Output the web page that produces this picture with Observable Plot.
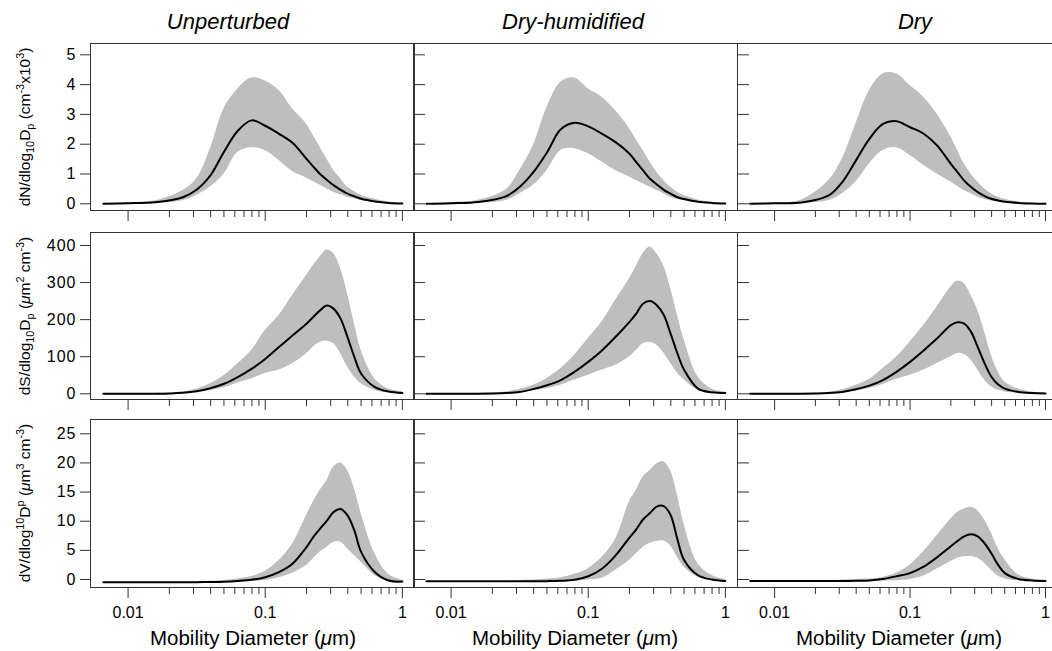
<!DOCTYPE html>
<html><head><meta charset="utf-8">
<script src="https://cdn.jsdelivr.net/npm/d3@7"></script>
<script src="https://cdn.jsdelivr.net/npm/@observablehq/plot@0.6"></script>
<style>
body{margin:0;background:#fff;overflow:hidden}
#chart{position:relative;width:1052px;height:651px;overflow:hidden;background:#fff;font-family:"Liberation Sans",Arial,Helvetica,sans-serif;color:#000}
.panel{position:absolute}
.title{position:absolute;top:8px;font-style:italic;font-size:22px;line-height:28px;white-space:nowrap;transform:translateX(-50%)}
.ylab{position:absolute;white-space:nowrap;font-size:15.5px;line-height:18px;transform:translate(-50%,-50%) rotate(-90deg)}
.xlab{position:absolute;font-size:20.5px;line-height:24px;white-space:nowrap;transform:translateX(-50%)}
sub,sup{font-size:70%;line-height:0}
</style></head>
<body><div id="chart"></div>
<script>
// Mobility diameter grid (µm)
const diam = [0.0066, 0.01, 0.0158, 0.0251, 0.0316, 0.0398, 0.0501, 0.0631, 0.0794, 0.1, 0.126, 0.158, 0.2, 0.224, 0.251, 0.282, 0.316, 0.355, 0.398, 0.447, 0.501, 0.631, 0.794, 1.0];
const conditions = ["Unperturbed", "Dry-humidified", "Dry"];

// Number distribution (cm^-3 x10^3)
const nUnpMean = [0, 0.02, 0.05, 0.22, 0.47, 0.95, 1.75, 2.45, 2.8, 2.62, 2.35, 2.05, 1.51, 1.25, 1.0, 0.8, 0.62, 0.47, 0.34, 0.25, 0.17, 0.08, 0.03, 0.01];
const nUnpHi   = [0, 0.03, 0.1, 0.45, 0.84, 1.85, 3.2, 3.85, 4.22, 4.12, 3.8, 3.19, 2.68, 2.29, 1.9, 1.5, 1.12, 0.84, 0.56, 0.41, 0.28, 0.15, 0.06, 0.02];
const nUnpLo   = [0, 0, 0.02, 0.1, 0.28, 0.56, 1.0, 1.73, 1.88, 1.79, 1.45, 1.08, 0.86, 0.74, 0.62, 0.5, 0.39, 0.3, 0.22, 0.17, 0.11, 0.04, 0.01, 0];
const nHumMean = [0, 0.02, 0.06, 0.25, 0.56, 1.06, 1.73, 2.5, 2.72, 2.6, 2.35, 2.07, 1.68, 1.4, 1.12, 0.84, 0.65, 0.47, 0.34, 0.22, 0.16, 0.07, 0.03, 0.01];
const nHumHi   = [0, 0.04, 0.12, 0.47, 1.12, 1.96, 3.24, 4.08, 4.22, 3.86, 3.58, 3.13, 2.52, 2.15, 1.79, 1.4, 1.06, 0.78, 0.56, 0.39, 0.28, 0.13, 0.05, 0.02];
const nHumLo   = [0, 0, 0.02, 0.11, 0.34, 0.62, 1.12, 1.79, 1.85, 1.68, 1.4, 1.12, 0.9, 0.78, 0.67, 0.56, 0.45, 0.34, 0.22, 0.15, 0.1, 0.04, 0.01, 0];
const nDryMean = [0, 0.02, 0.04, 0.28, 0.73, 1.45, 2.18, 2.68, 2.77, 2.57, 2.35, 1.96, 1.34, 1.06, 0.78, 0.56, 0.39, 0.26, 0.17, 0.11, 0.07, 0.03, 0.01, 0];
const nDryHi   = [0, 0.03, 0.13, 0.78, 1.51, 2.68, 3.8, 4.36, 4.36, 3.97, 3.58, 3.02, 2.24, 1.8, 1.34, 1.0, 0.73, 0.5, 0.34, 0.22, 0.15, 0.06, 0.02, 0.01];
const nDryLo   = [0, 0, 0.01, 0.11, 0.34, 0.73, 1.34, 1.79, 1.88, 1.62, 1.29, 1.0, 0.73, 0.59, 0.45, 0.34, 0.22, 0.15, 0.09, 0.06, 0.04, 0.01, 0, 0];

// Surface distribution (µm^2 cm^-3)
const sUnpMean = [0, 0, 0, 3, 7, 15, 27, 45, 67, 94, 126, 157, 189, 207, 225, 238, 229, 202, 153, 99, 54, 18, 6, 2];
const sUnpHi   = [0, 0, 1, 5, 13, 27, 49, 81, 117, 171, 211, 265, 319, 346, 369, 388, 378, 337, 270, 189, 117, 40, 13, 6];
const sUnpLo   = [0, 0, 0, 2, 4, 9, 16, 29, 40, 55, 64, 81, 108, 126, 139, 142, 135, 108, 72, 45, 27, 9, 3, 1];
const sHumMean = [0, 0, 0, 2, 5, 13, 23, 37, 59, 86, 117, 153, 194, 216, 243, 250, 239, 213, 163, 109, 64, 14, 4, 2];
const sHumHi   = [0, 0, 1, 5, 12, 23, 41, 68, 104, 149, 194, 252, 310, 344, 378, 396, 378, 345, 285, 212, 145, 46, 13, 5];
const sHumLo   = [0, 0, 0, 1, 3, 8, 14, 23, 37, 50, 64, 77, 100, 117, 135, 138, 131, 110, 83, 56, 37, 10, 4, 1];
const sDryMean = [0, 0, 0, 2, 5, 12, 22, 37, 59, 86, 117, 149, 185, 193, 189, 167, 126, 82, 46, 25, 14, 5, 2, 1];
const sDryHi   = [0, 0, 1, 4, 11, 23, 39, 68, 99, 140, 184, 234, 288, 304, 297, 265, 225, 167, 104, 59, 32, 13, 5, 2];
const sDryLo   = [0, 0, 0, 1, 3, 7, 14, 25, 39, 50, 64, 82, 100, 109, 106, 91, 64, 37, 19, 10, 5, 2, 1, 0];

// Volume distribution (µm^3 cm^-3)
const vUnpMean = [-0.45, -0.45, -0.45, -0.45, -0.45, -0.43, -0.38, -0.25, -0.05, 0.4, 1.26, 2.69, 5.55, 7.27, 8.7, 10.1, 11.6, 12.1, 11.0, 8.4, 4.7, 1.26, -0.17, -0.35];
const vUnpHi   = [-0.45, -0.45, -0.45, -0.45, -0.4, -0.3, -0.15, 0.1, 0.5, 1.43, 3.26, 6.1, 11.0, 13.3, 15.3, 17.0, 19.3, 20.0, 18.7, 15.6, 11.3, 4.4, 0.86, -0.1];
const vUnpLo   = [-0.45, -0.45, -0.45, -0.45, -0.45, -0.45, -0.45, -0.4, -0.3, -0.15, 0.29, 1.09, 2.4, 3.55, 4.7, 5.55, 6.4, 6.4, 5.26, 4.1, 2.97, 0.69, -0.34, -0.42];
const vHumMean = [-0.3, -0.3, -0.3, -0.3, -0.3, -0.3, -0.28, -0.22, -0.05, 0.56, 1.85, 4.1, 7.2, 8.6, 10.3, 11.4, 12.5, 12.6, 11.1, 6.9, 3.3, 0.73, 0.0, -0.25];
const vHumHi   = [-0.3, -0.3, -0.3, -0.3, -0.2, -0.1, 0.1, 0.3, 0.9, 1.85, 3.8, 6.9, 13.4, 15.3, 17.6, 18.7, 19.8, 20.2, 18.7, 14.5, 9.4, 2.7, 0.73, 0];
const vHumLo   = [-0.3, -0.3, -0.3, -0.3, -0.3, -0.3, -0.3, -0.3, -0.28, -0.1, 0.2, 1.6, 3.3, 4.4, 5.5, 6.2, 6.5, 6.6, 5.8, 3.8, 2.1, 0.4, -0.1, -0.2];
const vDryMean = [-0.25, -0.25, -0.25, -0.25, -0.25, -0.22, -0.15, 0.1, 0.55, 1.1, 2.2, 3.8, 5.7, 6.6, 7.4, 7.75, 7.4, 6.2, 4.5, 2.5, 1.1, 0.1, -0.17, -0.25];
const vDryHi   = [-0.25, -0.25, -0.25, -0.2, -0.1, 0, 0.1, 0.35, 1.1, 2.5, 4.8, 7.5, 10.4, 11.5, 12.1, 12.4, 11.8, 10.2, 8.0, 5.3, 3.4, 0.8, 0.1, -0.1];
const vDryLo   = [-0.25, -0.25, -0.25, -0.25, -0.25, -0.25, -0.25, -0.25, -0.2, 0.0, 0.6, 1.8, 3.1, 3.65, 3.9, 4.0, 3.65, 2.8, 1.6, 0.6, 0.1, -0.2, -0.25, -0.25];

// Tick values
const nTicks = [0, 1, 2, 3, 4, 5];
const sTicks = [0, 100, 200, 300, 400];
const vTicks = [0, 5, 10, 15, 20, 25];
const xMajor = [0.01, 0.1, 1];
const xMinor = [0.02, 0.03, 0.04, 0.05, 0.06, 0.07, 0.08, 0.09, 0.2, 0.3, 0.4, 0.5, 0.6, 0.7, 0.8, 0.9];
const xLabel = "Mobility Diameter (<i>μ</i>m)";
const yLabels = [
  "dN/dlog<sub>10</sub>D<sub>p</sub> (cm<sup>-3</sup>x10<sup>3</sup>)",
  "dS/dlog<sub>10</sub>D<sub>p</sub> (<i>μ</i>m<sup>2</sup> cm<sup>-3</sup>)",
  "dV/dlog<sup>10</sup>D<sup>p</sup> (<i>μ</i>m<sup>3</sup> cm<sup>-3</sup>)"
];

// assemble
const series = [
  [[nUnpMean, nUnpLo, nUnpHi], [nHumMean, nHumLo, nHumHi], [nDryMean, nDryLo, nDryHi]],
  [[sUnpMean, sUnpLo, sUnpHi], [sHumMean, sHumLo, sHumHi], [sDryMean, sDryLo, sDryHi]],
  [[vUnpMean, vUnpLo, vUnpHi], [vHumMean, vHumLo, vHumHi], [vDryMean, vDryLo, vDryHi]]
];
const yTicks = [nTicks, sTicks, vTicks];
const yDomains = [[-0.225, 5.38], [-15.4, 435], [-1.37, 27.45]];
const xDomain = [0.00532, 1.226];

// layout
const colX = [90, 413, 737];
const colW = [324, 324, 320];
const rowY = [43, 232, 419];
const rowH = [167, 167, 168];
const titleX = [228, 573, 915];

const chart = document.getElementById("chart");
const font = '"Liberation Sans", Arial, Helvetica, sans-serif';

for (let r = 0; r < 3; r++) {
  for (let c = 0; c < 3; c++) {
    const [m, lo, hi] = series[r][c];
    const PW = colW[c];
    const rows = diam.map((d, i) => ({d, m: m[i], lo: lo[i], hi: hi[i]}));
    const ml = c === 0 ? 90 : 1, mr = 1, mt = 1, mb = r === 2 ? 40 : 16;
    const marks = [
      Plot.areaY(rows, {x: "d", y1: "lo", y2: "hi", fill: "#bebebe", curve: "catmull-rom"}),
      Plot.lineY(rows, {x: "d", y: "m", stroke: "#000", strokeWidth: 2, curve: "catmull-rom"}),
      Plot.frame({stroke: "#333", strokeWidth: 1}),
      Plot.axisX({ticks: xMajor, tickSize: 11, tickPadding: 8, stroke: "#333",
        tickFormat: r === 2 ? (d => String(d)) : (() => ""), label: null, fontSize: 16}),
      Plot.axisX({ticks: xMinor, tickSize: 7, stroke: "#333", tickFormat: () => "", label: null})
    ];
    if (c === 0) {
      marks.push(Plot.axisY({ticks: yTicks[r], tickSize: 10, tickPadding: 4, stroke: "#333",
        tickFormat: d => String(d), label: null, fontSize: 16}));
    } else {
      marks.push(Plot.tickY(yTicks[r], {y: d => d, insetRight: PW - 12, stroke: "#333"}));
    }
    const svg = Plot.plot({
      width: ml + PW + mr,
      height: mt + rowH[r] + mb,
      marginLeft: ml, marginRight: mr, marginTop: mt, marginBottom: mb,
      x: {type: "log", domain: xDomain},
      y: {domain: yDomains[r], axis: c === 0 ? undefined : null},
      style: {background: "transparent", overflow: "visible", fontFamily: font, fontSize: "16px", color: "#000", maxWidth: "none"},
      marks
    });
    svg.classList.add("panel");
    svg.style.position = "absolute";
    svg.style.left = (colX[c] - ml) + "px";
    svg.style.top = (rowY[r] - mt) + "px";
    svg.querySelectorAll('g[aria-label="y-axis tick label"] text').forEach(t => t.style.letterSpacing = "1px");
    chart.appendChild(svg);
  }
}

// column titles
conditions.forEach((t, c) => {
  const d = document.createElement("div");
  d.className = "title";
  d.style.left = titleX[c] + "px";
  d.textContent = t;
  chart.appendChild(d);
});
// x axis titles
const xTitleX = [253, 575, 899];
for (let c = 0; c < 3; c++) {
  const d = document.createElement("div");
  d.className = "xlab";
  d.style.left = xTitleX[c] + "px";
  d.style.top = "626px";
  d.innerHTML = xLabel;
  chart.appendChild(d);
}
// y axis titles
for (let r = 0; r < 3; r++) {
  const d = document.createElement("div");
  d.className = "ylab";
  d.style.left = "25px";
  d.style.top = (rowY[r] + rowH[r] / 2) + "px";
  d.innerHTML = yLabels[r];
  chart.appendChild(d);
}
</script>
</body></html>
